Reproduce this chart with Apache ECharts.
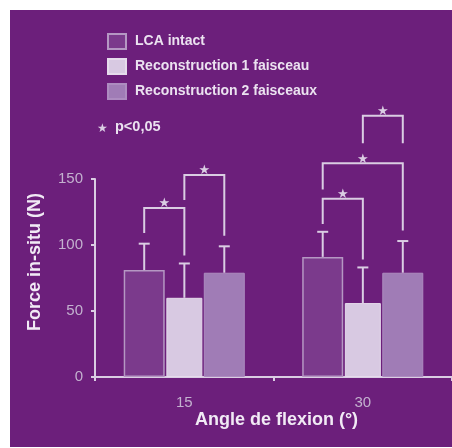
<!DOCTYPE html>
<html><head><meta charset="utf-8">
<script src="https://cdn.jsdelivr.net/npm/echarts@6/dist/echarts.min.js"></script>
<style>
html,body{margin:0;padding:0;background:#fff;}
#wrap{position:relative;width:452px;height:448px;background:#fff;overflow:hidden;}
#c{position:absolute;left:10px;top:10px;width:442px;height:437px;}
</style>
</head><body><div id="wrap"><div id="c"></div></div>
<script>
// ---- data ----
const categories = ['15', '30'];
const seriesNames = ['LCA intact', 'Reconstruction 1 faisceau', 'Reconstruction 2 faisceaux'];
const lcaIntact = [81, 91];
const recon1 = [60, 56];
const recon2 = [79, 79];
const lcaIntactErr = [101, 110];
const recon1Err = [86, 83];
const recon2Err = [99, 103];
const yTicks = [0, 50, 100, 150];
// significance brackets: [category index, left bar, right bar, left foot, top, right foot]
const brackets = [
  [0, 0, 1, 109, 128, 92],
  [0, 1, 2, 134, 153, 107],
  [1, 0, 1, 116, 135, 89],
  [1, 0, 2, 142, 162, 111],
  [1, 1, 2, 177, 198, 177]
];
const sigNote = 'p<0,05';

// ---- style ----
const BG = '#6c1f7b';
const LINE = '#dacde3';
const TICK_TXT = '#c3b1cf';
const TITLE_TXT = '#f1eaf5';
const COLORS = ['#7b3a8c', '#d8c9e2', '#a07cb6'];
const BORDERS = ['#b597c3', '#e6dbec', '#ad8cc0'];
const BAR_W = [41, 36, 41];
const GAP_PCT = 0.04;
const FONT = '"Liberation Sans", Arial, sans-serif';

// bar center offsets, replicating ECharts bar layout
const OFF = (function () {
  let sum = 0;
  BAR_W.forEach(w => sum += w * (1 + GAP_PCT));
  sum -= BAR_W[BAR_W.length - 1] * GAP_PCT;
  let o = -sum / 2; const res = [];
  BAR_W.forEach(w => { res.push(o + w / 2); o += w * (1 + GAP_PCT); });
  return res;
})();

const values = [lcaIntact, recon1, recon2];
const errs = [lcaIntactErr, recon1Err, recon2Err];

const barSeries = seriesNames.map((n, i) => ({
  name: n, type: 'bar', barWidth: BAR_W[i], barGap: (GAP_PCT * 100) + '%',
  data: values[i],
  itemStyle: { color: COLORS[i], borderColor: BORDERS[i], borderWidth: i === 0 ? 1.5 : 1 },
  emphasis: { disabled: true }, z: 2
}));

const errData = [];
values.forEach((arr, s) => arr.forEach((v, c) => errData.push([c, v, errs[s][c], s])));

const errSeries = {
  type: 'custom', name: 'err', data: errData, z: 3, silent: true,
  renderItem: function (params, api) {
    const c = api.value(0), v = api.value(1), e = api.value(2), s = api.value(3);
    const p0 = api.coord([c, v]), p1 = api.coord([c, e]);
    const x = p0[0] + OFF[s];
    return { type: 'group', children: [
      { type: 'line', shape: { x1: x, y1: p0[1], x2: x, y2: p1[1] }, style: { stroke: LINE, lineWidth: 2 } },
      { type: 'line', shape: { x1: x - 5.5, y1: p1[1], x2: x + 5.5, y2: p1[1] }, style: { stroke: LINE, lineWidth: 2 } }
    ] };
  }
};

const brSeries = {
  type: 'custom', name: 'br', data: brackets, z: 4, silent: true, clip: false,
  renderItem: function (params, api) {
    const c = api.value(0), l = api.value(1), r = api.value(2);
    const lf = api.value(3), t = api.value(4), rf = api.value(5);
    const base = api.coord([c, t]);
    const xl = base[0] + OFF[l], xr = base[0] + OFF[r];
    const yt = base[1], yl = api.coord([c, lf])[1], yr = api.coord([c, rf])[1];
    return { type: 'group', children: [
      { type: 'polyline', shape: { points: [[xl, yl], [xl, yt], [xr, yt], [xr, yr]] },
        style: { stroke: LINE, lineWidth: 2, fill: null } },
      { type: 'text', x: (xl + xr) / 2, y: yt - 4,
        style: { text: '★', fill: LINE, fontSize: 13, align: 'center', verticalAlign: 'middle', fontFamily: 'DejaVu Sans' } }
    ] };
  }
};

const chart = echarts.init(document.getElementById('c'), null, { renderer: 'canvas' });
chart.setOption({
  backgroundColor: BG,
  animation: false,
  textStyle: { fontFamily: FONT },
  grid: { left: 85, top: 169, right: -3, bottom: 70, containLabel: false },
  legend: {
    orient: 'vertical', left: 97, top: 23, padding: 0, itemWidth: 18, itemHeight: 15, itemGap: 8,
    icon: 'rect', data: seriesNames, selectedMode: false,
    textStyle: { color: '#ebe2f0', fontSize: 14, fontWeight: 'bold', fontFamily: FONT, padding: [0, 0, 0, 4] }
  },
  graphic: [
    { type: 'text', left: 87, top: 113, silent: true,
      style: { text: '★', fill: LINE, fontSize: 12, fontFamily: 'DejaVu Sans' } },
    { type: 'text', left: 105, top: 109, silent: true,
      style: { text: sigNote, fill: '#ebe2f0', fontSize: 14.5, fontWeight: 'bold', fontFamily: FONT } }
  ],
  xAxis: {
    type: 'category', data: categories,
    name: 'Angle de flexion (°)', nameLocation: 'middle', nameGap: 30,
    nameTextStyle: { color: TITLE_TXT, fontSize: 18, fontWeight: 'bold', fontFamily: FONT, padding: [0, 0, 0, 6] },
    axisLine: { lineStyle: { color: LINE, width: 2 } },
    axisTick: { show: true, length: 4, lineStyle: { color: LINE, width: 2 } },
    axisLabel: { color: TICK_TXT, fontSize: 15, margin: 18, fontFamily: FONT },
    splitLine: { show: false }
  },
  yAxis: {
    type: 'value', min: yTicks[0], max: yTicks[yTicks.length - 1], interval: 50,
    name: 'Force in-situ (N)', nameLocation: 'middle', nameGap: 51,
    nameTextStyle: { color: TITLE_TXT, fontSize: 18, fontWeight: 'bold', fontFamily: FONT, padding: [0, 0, 0, 32] },
    axisLine: { show: true, lineStyle: { color: LINE, width: 2 } },
    axisTick: { show: true, length: 4, lineStyle: { color: LINE, width: 2 } },
    axisLabel: { color: TICK_TXT, fontSize: 15, margin: 12, fontFamily: FONT },
    splitLine: { show: false }
  },
  series: barSeries.concat([errSeries, brSeries])
});
</script>
</body></html>
